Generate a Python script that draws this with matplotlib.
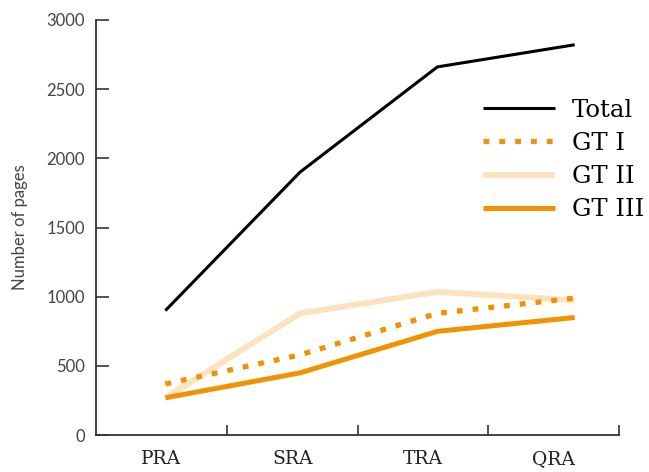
import matplotlib.pyplot as plt
from matplotlib.ticker import FixedLocator

categories = ['PRA', 'SRA', 'TRA', 'QRA']
x_pos = [0.53, 1.56, 2.61, 3.66]
total = [900, 1900, 2660, 2820]
gt1 = [370, 580, 880, 990]
gt2 = [270, 880, 1035, 975]
gt3 = [270, 450, 750, 850]

orange = '#F39200'
light = '#FCE2BE'

fig = plt.figure(figsize=(6.49, 4.72), dpi=100)
ax = fig.add_axes([0.148, 0.078, 0.806, 0.880])

ax.plot(x_pos, total, color='black', lw=2.2, label='Total', solid_capstyle='butt', zorder=5)
ax.plot(x_pos, gt1, color=orange, lw=3.8, linestyle=(0, (1.1, 1.9)), label='GT I',
        dash_capstyle='butt', zorder=3)
ax.plot(x_pos, gt2, color=light, lw=4.2, label='GT II', solid_capstyle='butt', zorder=2)
ax.plot(x_pos, gt3, color=orange, lw=3.6, label='GT III', solid_capstyle='butt', zorder=4)

ax.set_xlim(0, 4)
ax.set_ylim(0, 3000)
for s in ['top', 'right']:
    ax.spines[s].set_visible(False)
for s in ['left', 'bottom']:
    ax.spines[s].set_color('#333333')
    ax.spines[s].set_linewidth(1.3)

ax.xaxis.set_major_locator(FixedLocator([1, 2, 3, 4]))
ax.xaxis.set_major_formatter(plt.NullFormatter())
ax.xaxis.set_minor_locator(FixedLocator([0.5, 1.5, 2.5, 3.5]))
ax.set_xticklabels(categories, minor=True, family='DejaVu Serif', fontsize=13.5, color='#222222')
ax.tick_params(axis='x', which='major', direction='in', length=7, width=1.2, color='#333333')
ax.tick_params(axis='x', which='minor', length=0, pad=11)

ax.set_yticks(range(0, 3001, 500))
ax.tick_params(axis='y', direction='in', length=9, width=1.3, color='#444444',
               labelsize=12, labelcolor='#444444', pad=8)
for lab in ax.get_yticklabels():
    lab.set_family('Lato')
ax.set_ylabel('Number of pages', family='Lato', fontsize=12, color='#444444', labelpad=13)

leg = ax.legend(loc='upper right', bbox_to_anchor=(1.09, 0.863), frameon=False,
                prop={'family': 'DejaVu Serif', 'size': 17.5}, handlelength=2.97,
                labelspacing=0.42, handletextpad=0.7)

fig.savefig('out.png', dpi=100)
